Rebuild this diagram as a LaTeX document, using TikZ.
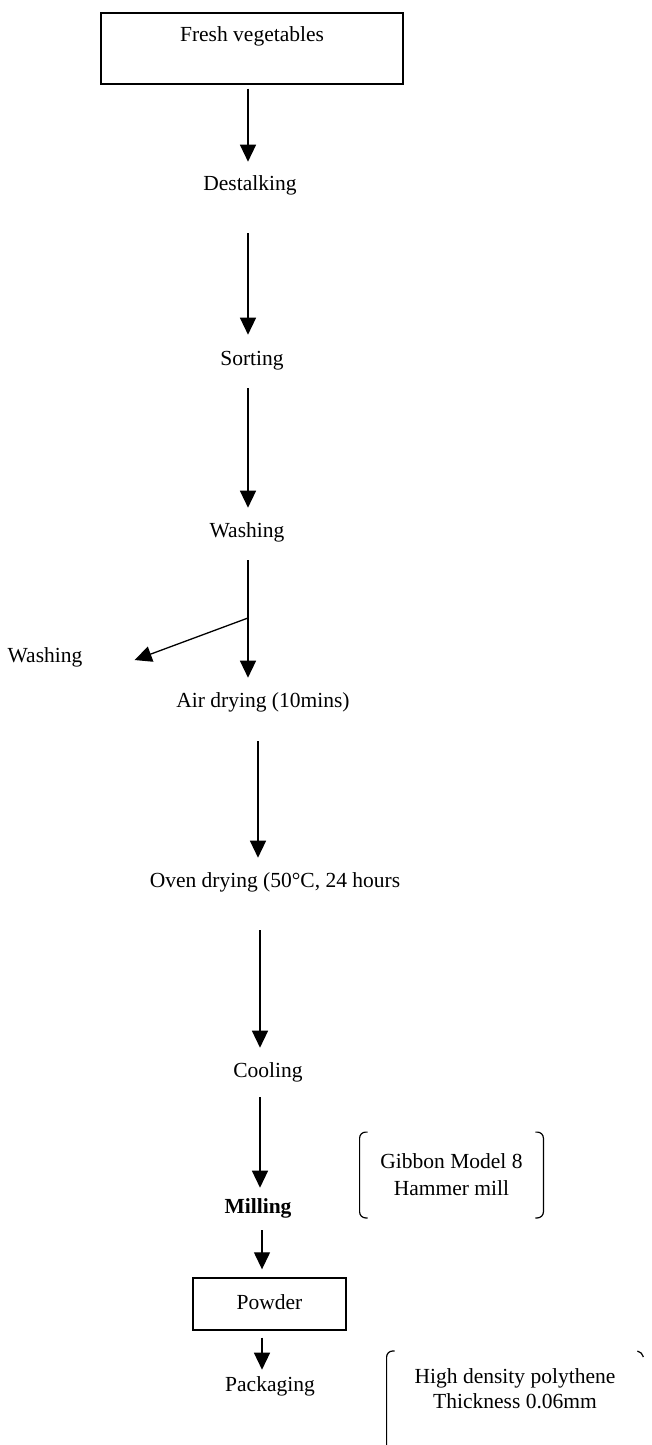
\documentclass[tikz,border=0pt]{standalone}
\usepackage{fontspec}
\setmainfont{Liberation Serif}
\usetikzlibrary{arrows.meta}

\begin{document}
\begin{tikzpicture}[x=0.5pt, y=-0.5pt,
    every node/.style={font=\fontsize{10.75pt}{12.5pt}\selectfont},
    stage/.style={inner sep=0pt, text height=7.5pt, text depth=2.4pt},
    boxed/.style={draw, line width=0.7pt},
    flow/.style={line width=0.65pt, -{Triangle[width=8pt, length=8.5pt]}},
    brace/.style={line width=0.6pt, rounded corners=3pt}]
    \useasboundingbox (0,0) rectangle (652,1445);

% stages
    \node[boxed, stage, text depth=14pt, inner ysep=7pt, minimum width=151pt] (fresh) at (252,48.5) {Fresh vegetables};
    \node[stage] (dest) at (250,185) {Destalking};
    \node[stage] (sort) at (252,360) {Sorting};
    \node[stage] (wash) at (247,532) {Washing};
    \node[stage] (washout) at (45,657) {Washing};
    \node[stage] (air) at (263,702) {Air drying (10mins)};
    \node[stage] (oven) at (275,882) {Oven drying (50°C, 24 hours};
    \node[stage] (cool) at (268,1072) {Cooling};
    \node[stage, font=\fontsize{10.75pt}{12.5pt}\selectfont\bfseries] (mill) at (258,1208) {Milling};
    \node[boxed, stage, minimum width=76.5pt, minimum height=26pt] (powder) at (269.5,1304) {Powder};
    \node[stage] (pack) at (270,1386) {Packaging};

% notes
    \node[inner sep=0pt, align=center, minimum width=91.5pt, minimum height=42.5pt,
          font=\fontsize{10.75pt}{13.5pt}\selectfont] (gib) at (451.5,1175) {Gibbon Model 8\\Hammer mill};
    \node[inner xsep=0pt, inner ysep=8.5pt, align=center, anchor=north, minimum width=128pt] (hd) at (515,1351) {High density polythene\\Thickness 0.06mm};

% flow
    \draw[flow, shorten <=2pt, shorten >=6.5pt] ([xshift=-2pt]fresh.south) -- ([xshift=-1pt]dest.north);
    \draw[flow, shorten <=19pt, shorten >=7.5pt] ([xshift=-1pt]dest.south) -- ([xshift=-2pt]sort.north);
    \draw[flow, shorten <=9pt, shorten >=7pt] ([xshift=-2pt]sort.south) -- ([xshift=0.5pt]wash.north);
    \draw[flow, shorten <=9pt, shorten >=7pt] ([xshift=0.5pt]wash.south) -- ([xshift=-7.5pt]air.north);
    \coordinate (brk) at (248,618);
    \draw[flow, shorten >=27.7pt] (brk) -- ([yshift=-11.15pt]washout.east);
    \draw[flow, shorten <=14.5pt, shorten >=7pt] ([xshift=-2.5pt]air.south) -- ([xshift=-8.5pt]oven.north);
    \draw[flow, shorten <=19pt, shorten >=7pt] ([xshift=-7.5pt]oven.south) -- ([xshift=-4pt]cool.north);
    \draw[flow, shorten <=7.5pt, shorten >=5pt] ([xshift=-4pt]cool.south) -- ([xshift=1pt]mill.north);
    \draw[flow, shorten <=6pt, shorten >=4pt] ([xshift=2pt]mill.south) -- ([xshift=-3.75pt]powder.north);
    \draw[flow, shorten <=3.5pt, shorten >=3pt] ([xshift=-3.75pt]powder.south) -- ([xshift=-4pt]pack.north);

% brackets
    \draw[brace] ([xshift=4pt]gib.north west) -- (gib.north west) -- (gib.south west) -- ([xshift=4pt]gib.south west);
    \draw[brace] ([xshift=-4pt]gib.north east) -- (gib.north east) -- (gib.south east) -- ([xshift=-4pt]gib.south east);
    \draw[brace] ([xshift=4pt]hd.north west) -- (hd.north west) -- ([yshift=-20pt]hd.south west);
    \draw[line width=0.6pt] ([xshift=-3pt]hd.north east) to[bend left=30] ([yshift=-3pt]hd.north east);

\end{tikzpicture}
\end{document}
